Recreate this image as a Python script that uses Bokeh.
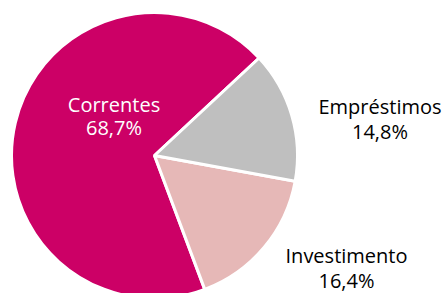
import math
from bokeh.plotting import figure
from bokeh.models import Range1d, ColumnDataSource
from bokeh.core.properties import value
from bokeh.embed import file_html
from bokeh.resources import INLINE

# data
categories = ["Correntes", "Empréstimos", "Investimento"]
shares = [68.7, 14.8, 16.4]
share_labels = ["68,7%", "14,8%", "16,4%"]
colors = ["#CC0066", "#BFBFBF", "#E6B8B7"]

W, H = 442, 293
p = figure(width=W, height=H, output_backend="svg", toolbar_location=None,
           x_range=Range1d(0, W), y_range=Range1d(0, H),
           x_axis_location=None, y_axis_location=None, min_border=0)
p.grid.visible = False
p.outline_line_color = None
p.background_fill_color = "white"
p.border_fill_color = "white"

cx, cy, r = 154, 138, 143
start_deg = 43.0
# counterclockwise drawing order: Correntes, Investimento, Empréstimos
order = [0, 2, 1]
total = sum(shares)
starts, ends, cols = [], [], []
a = math.radians(start_deg)
for i in order:
    span = 2 * math.pi * shares[i] / total
    starts.append(a)
    ends.append(a + span)
    cols.append(colors[i])
    a += span
src = ColumnDataSource(dict(x=[cx] * 3, y=[cy] * 3, s=starts, e=ends, c=cols))
p.wedge(x="x", y="y", radius=r, radius_units="screen", start_angle="s", end_angle="e",
        fill_color="c", line_color="white", line_width=3, source=src)

# labels (anchor positions)
lx = [113.5, 379.5, 346]
ly1 = [189, 187, 38]
ly2 = [166, 162, 13]
tcol = ["white", "black", "black"]
lsrc = ColumnDataSource(dict(x=lx, y1=ly1, y2=ly2, t1=categories, t2=share_labels, c=tcol))
for ycol, tcolname in (("y1", "t1"), ("y2", "t2")):
    p.text(x="x", y=ycol, text=tcolname, source=lsrc, text_color="c",
           text_font=value("Open Sans"), text_font_size="20px",
           text_align="center", text_baseline="alphabetic")

open("out.html", "w").write(file_html(p, INLINE))
